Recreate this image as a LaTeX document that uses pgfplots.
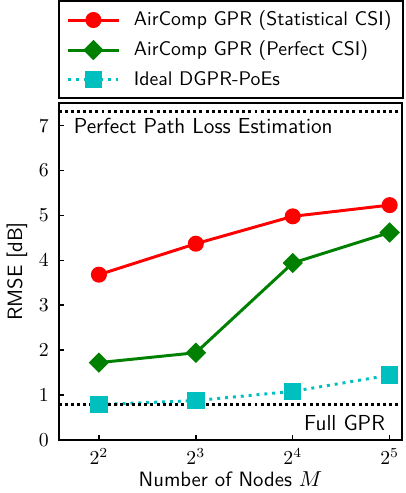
\documentclass[border=0pt]{standalone}
\usepackage{pgfplots}
\pgfplotsset{compat=1.18}
\renewcommand{\familydefault}{\sfdefault}
\definecolor{mplred}{rgb}{1,0,0}
\definecolor{mplgreen}{rgb}{0,0.5,0}
\definecolor{mplcyan}{rgb}{0,0.75,0.75}
\begin{document}
\begin{tikzpicture}
\begin{axis}[
  scale only axis,
  width=174pt, height=170.5pt,
  xmode=log, log basis x=2,
  xmin=3, xmax=35,
  ymin=0, ymax=7.5,
  xtick={4,8,16,32},
  xticklabels={$2^2$,$2^3$,$2^4$,$2^5$},
  xminorticks=false,
  ytick={0,1,2,3,4,5,6,7},
  tick pos=left,
  tick align=inside,
  major tick length=2.5pt,
  axis line style={line width=0.9pt},
  every tick/.style={black, line width=0.7pt},
  xticklabel style={yshift=-1pt},
  yticklabel style={xshift=-1.5pt},
  xlabel={Number of Nodes $M$},
  ylabel={RMSE [dB]},
  label style={font=\fontsize{10.5}{12}\selectfont},
  xlabel style={at={(axis description cs:0.5,0)}, anchor=base, yshift=-23.5pt},
  ylabel style={yshift=-1pt},
  legend cell align=left,
  legend style={at={(1.006,1.012)}, anchor=south east, draw=black, line width=0.9pt,
    font=\fontsize{10}{12}\selectfont, row sep=2.2pt, column sep=5pt, inner xsep=4pt, inner ysep=3.2pt},
  legend image code/.code={%
    \draw[mark repeat=2,mark phase=2] plot coordinates {(0cm,0cm)(0.45cm,0cm)(0.9cm,0cm)};},
]
\addplot[color=mplred, line width=1.5pt, mark=*, mark size=3.3pt, mark options={solid}]
  coordinates {(4,3.68) (8,4.37) (16,4.98) (32,5.23)};
\addlegendentry{AirComp GPR (Statistical CSI)}
\addplot[color=mplgreen, line width=1.5pt, mark=square*, mark size=2.9pt, mark options={solid, rotate=45}]
  coordinates {(4,1.72) (8,1.94) (16,3.94) (32,4.62)};
\addlegendentry{AirComp GPR (Perfect CSI)}
\addplot[color=mplcyan, line width=1.5pt, dash pattern=on 1.5pt off 2.5pt, mark=square*, mark size=3.65pt, mark options={solid}]
  coordinates {(4,0.786) (8,0.874) (16,1.08) (32,1.44)};
\addlegendentry{Ideal DGPR-PoEs}
\addplot[black, line width=1.5pt, dash pattern=on 1.5pt off 1.6pt, forget plot]
  coordinates {(3,7.32) (35,7.32)};
\addplot[black, line width=1.5pt, dash pattern=on 1.5pt off 1.6pt, forget plot]
  coordinates {(3,0.786) (35,0.786)};
\node[anchor=base west, inner sep=0pt, font=\fontsize{11}{13}\selectfont] at (rel axis cs:0.043,0.911) {Perfect Path Loss Estimation};
\node[anchor=base east, inner sep=0pt, font=\fontsize{11}{13}\selectfont] at (rel axis cs:0.951,0.029) {Full GPR};
\end{axis}
\end{tikzpicture}
\end{document}
